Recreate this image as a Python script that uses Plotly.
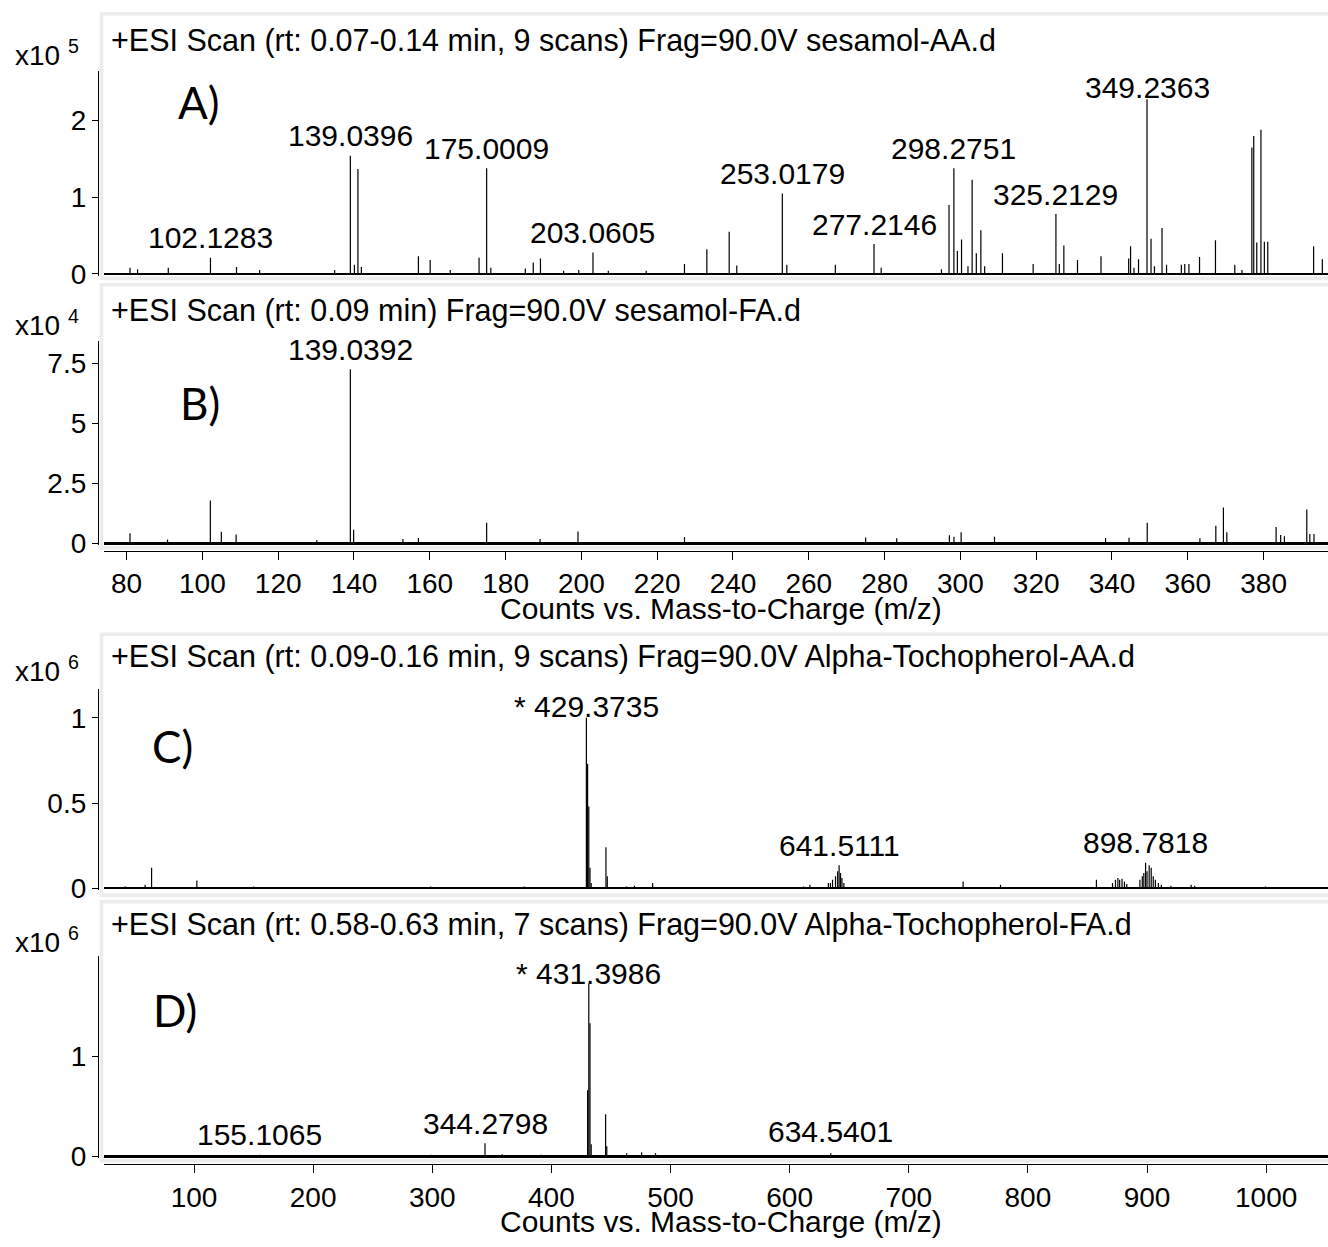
import plotly.graph_objects as go

# ---------------- data ----------------
# Panel A: sesamol-AA (counts x10^5)
mz_A = [80.9, 82.9, 91.0, 102.13, 109.0, 115.1, 134.9, 139.04, 140.1, 141.04, 141.95, 157.0,
        160.1, 165.4, 173.0, 175.0, 176.1, 185.2, 187.3, 189.2, 195.3, 199.3, 203.06, 207.1,
        217.1, 227.2, 233.1, 239.0, 241.0, 253.02, 254.2, 267.0, 277.21, 279.1, 295.0, 297.0,
        298.28, 299.2, 300.3, 302.0, 303.1, 304.2, 305.4, 306.4, 311.1, 319.2, 325.21, 326.1,
        327.3, 330.9, 337.1, 344.4, 344.9, 345.8, 347.0, 349.24, 350.3, 351.2, 353.2, 354.4,
        358.3, 359.2, 360.3, 363.1, 367.3, 372.4, 374.3, 376.9, 377.4, 378.2, 379.3, 380.2,
        381.1, 393.2, 395.5]
int_A = [0.08, 0.06, 0.08, 0.21, 0.09, 0.05, 0.05, 1.54, 0.12, 1.37, 0.09, 0.23,
         0.18, 0.05, 0.21, 1.38, 0.08, 0.07, 0.15, 0.20, 0.04, 0.05, 0.28, 0.04,
         0.04, 0.13, 0.32, 0.55, 0.11, 1.05, 0.12, 0.12, 0.39, 0.08, 0.06, 0.90,
         1.38, 0.30, 0.45, 0.10, 1.23, 0.27, 0.57, 0.10, 0.27, 0.13, 0.78, 0.13,
         0.37, 0.18, 0.23, 0.20, 0.36, 0.08, 0.19, 2.28, 0.46, 0.10, 0.60, 0.12,
         0.12, 0.13, 0.13, 0.22, 0.44, 0.12, 0.05, 1.65, 1.80, 0.41, 1.88, 0.42,
         0.42, 0.36, 0.19]
lab_A = ["102.1283", "139.0396", "175.0009", "203.0605", "253.0179", "277.2146",
         "298.2751", "325.2129", "349.2363"]
lab_A_mz = [102.13, 139.04, 175.0, 203.06, 253.02, 277.21, 298.28, 325.21, 349.24]

# Panel B: sesamol-FA (counts x10^4)
mz_B = [80.9, 90.8, 102.1, 105.0, 108.9, 130.2, 139.04, 139.9, 152.9, 157.0, 175.0, 189.1,
        199.1, 227.2, 275.0, 283.2, 297.1, 298.3, 300.2, 309.0, 338.3, 344.5, 349.3, 363.2,
        367.4, 369.4, 370.3, 383.3, 384.5, 385.5, 391.4, 392.2, 393.3]
int_B = [0.41, 0.15, 1.78, 0.47, 0.36, 0.13, 7.25, 0.56, 0.17, 0.22, 0.85, 0.17,
         0.49, 0.25, 0.23, 0.20, 0.33, 0.27, 0.45, 0.27, 0.22, 0.22, 0.85, 0.20,
         0.72, 1.48, 0.45, 0.67, 0.34, 0.29, 1.40, 0.38, 0.38]
lab_B = ["139.0392"]
lab_B_mz = [139.04]

# Panel C: Alpha-Tochopherol-AA (counts x10^6)
mz_C = [42.3, 59.0, 64.4, 102.4, 150.0, 298.7, 377.3, 429.37, 430.4, 431.4, 432.4, 433.4,
        445.8, 446.9, 463.2, 469.7, 485.0, 611.7, 617.0, 632.5, 634.2, 636.0, 638.5, 640.3,
        641.51, 642.7, 643.9, 645.5, 745.6, 777.0, 857.5, 871.0, 873.5, 875.5, 877.0, 879.0,
        881.0, 883.0, 894.0, 896.0, 897.3, 898.78, 900.0, 901.8, 903.5, 905.2, 907.0, 909.5,
        912.0, 920.0, 937.0, 940.0, 999.3]
int_C = [0.01, 0.02, 0.12, 0.045, 0.01, 0.01, 0.01, 1.0, 0.73, 0.48, 0.12, 0.03,
         0.24, 0.07, 0.01, 0.015, 0.03, 0.01, 0.02, 0.03, 0.03, 0.05, 0.07, 0.10,
         0.135, 0.09, 0.06, 0.03, 0.04, 0.02, 0.05, 0.03, 0.05, 0.06, 0.05, 0.055,
         0.04, 0.025, 0.05, 0.07, 0.09, 0.15, 0.10, 0.135, 0.12, 0.07, 0.05, 0.03,
         0.02, 0.015, 0.02, 0.015, 0.01]
lab_C = ["* 429.3735", "641.5111", "898.7818"]
lab_C_mz = [429.37, 641.51, 898.78]

# Panel D: Alpha-Tochopherol-FA (counts x10^6)
mz_D = [155.11, 165.0, 255.6, 298.7, 344.28, 358.7, 391.4, 430.4, 431.40, 432.4, 433.4,
        445.5, 446.5, 463.2, 475.7, 487.4, 634.54, 640.0]
int_D = [0.015, 0.01, 0.01, 0.015, 0.13, 0.02, 0.015, 0.66, 1.73, 1.33, 0.12,
         0.42, 0.10, 0.03, 0.04, 0.03, 0.03, 0.01]
lab_D = ["155.1065", "344.2798", "* 431.3986", "634.5401"]
lab_D_mz = [155.11, 344.28, 431.40, 634.54]

titles = ["+ESI Scan (rt: 0.07-0.14 min, 9 scans) Frag=90.0V sesamol-AA.d",
          "+ESI Scan (rt: 0.09 min) Frag=90.0V sesamol-FA.d",
          "+ESI Scan (rt: 0.09-0.16 min, 9 scans) Frag=90.0V Alpha-Tochopherol-AA.d",
          "+ESI Scan (rt: 0.58-0.63 min, 7 scans) Frag=90.0V Alpha-Tochopherol-FA.d"]
exponents = [5, 4, 6, 6]
letters = ["A)", "B)", "C)", "D)"]

ticks_A = [0, 1, 2]
ticks_B = [0, 2.5, 5, 7.5]
ticks_C = [0, 0.5, 1]
ticks_D = [0, 1]
xticks_AB = list(range(80, 381, 20))
xticks_CD = list(range(100, 1001, 100))
x_title = "Counts vs. Mass-to-Charge (m/z)"

# ---------------- layout geometry (pixels) ----------------
W, H = 1328, 1247
def px_x(p): return p / W
def px_y(p): return 1 - p / H

FONT = "Liberation Sans, Arial, sans-serif"
XDOM = [px_x(104), 1.0]
YPOS = px_x(98)
panels = [
    dict(zero=277.0, top=72.0, topv=2.645),
    dict(zero=549.3, top=345.0, topv=8.418),
    dict(zero=898.3, top=696.7, topv=1.170),
    dict(zero=1169.3, top=967.3, topv=2.0),
]
xr_AB = [74.04, 74.04 + (1328 - 104) / 3.79]
xr_CD = [24.45, 24.45 + (1328 - 104) / 1.1913]

def sticks(mz, inten):
    xs, ys = [], []
    for m, v in zip(mz, inten):
        xs += [m, m, None]
        ys += [0, v, None]
    return xs, ys

fig = go.Figure()
data = [(mz_A, int_A), (mz_B, int_B), (mz_C, int_C), (mz_D, int_D)]
for i, (mz, inten) in enumerate(data):
    xs, ys = sticks(mz, inten)
    sfx = "" if i == 0 else str(i + 1)
    fig.add_trace(go.Scatter(x=xs, y=ys, mode="lines", line=dict(color="black", width=1.2),
                             xaxis="x" + sfx, yaxis="y" + sfx, showlegend=False,
                             hoverinfo="skip"))

yticks = [ticks_A, ticks_B, ticks_C, ticks_D]
layout = dict(width=W, height=H, margin=dict(l=0, r=0, t=0, b=0),
              paper_bgcolor="white", plot_bgcolor="rgba(0,0,0,0)",
              font=dict(family=FONT, size=28, color="black"))

zero_w = [2, 3, 2, 2.5]
for i, p in enumerate(panels):
    sfx = "" if i == 0 else str(i + 1)
    ppu = (p["zero"] - p["top"]) / p["topv"]
    eps = 2.0 / ppu
    layout["yaxis" + sfx] = dict(
        domain=[px_y(p["zero"] + 2), px_y(p["top"])],
        range=[-eps, p["topv"]], anchor="free", position=YPOS,
        showline=True, linecolor="black", linewidth=1.3,
        ticks="outside", ticklen=6, tickcolor="black", tickwidth=1.3,
        tickvals=yticks[i], ticktext=[("%g" % t) for t in yticks[i]],
        tickfont=dict(size=28), showgrid=False,
        zeroline=True, zerolinecolor="black", zerolinewidth=zero_w[i])
    is_bottom = i in (1, 3)
    xr = xr_AB if i < 2 else xr_CD
    xt = xticks_AB if i < 2 else xticks_CD
    xa = dict(domain=XDOM, range=xr, showgrid=False, zeroline=False)
    if is_bottom:
        pos = px_y(557) if i == 1 else px_y(1177)
        xa.update(anchor="free", position=pos, showline=True, linecolor="black", linewidth=1.3,
                  ticks="outside", ticklen=8, tickcolor="black", tickwidth=1.3,
                  tickvals=xt, ticktext=[str(t) for t in xt], tickfont=dict(size=28))
    else:
        xa.update(anchor="y" + sfx, visible=False)
    layout["xaxis" + sfx] = xa

fig.update_layout(**layout)

# frames
frames = [(14, 281.5), (288, 554), (641.5, 905.5), (912, 1174)]
for (t, b) in frames:
    fig.add_shape(type="rect", xref="paper", yref="paper", x0=px_x(101.5), x1=1.02,
                  y0=px_y(b), y1=px_y(t), line=dict(color="#ececec", width=3.5),
                  fillcolor="rgba(0,0,0,0)", layer="below")

# titles, exponents, letters
title_y = [41, 314, 664, 935]
exp_y = [54, 327, 677, 951]
letter_pos = [(199, 103), (200, 408), (172, 754), (175, 1021)]
for i in range(4):
    fig.add_annotation(xref="paper", yref="paper", x=px_x(109), y=px_y(title_y[i]),
                       xanchor="left", yanchor="middle", text=titles[i], showarrow=False,
                       font=dict(size=30.5))
    fig.add_annotation(xref="paper", yref="paper", x=px_x(13), y=px_y(exp_y[i]),
                       xanchor="left", yanchor="middle",
                       text="x10 <sup>%d</sup>" % exponents[i], showarrow=False,
                       font=dict(size=28))
    lx, ly = letter_pos[i]
    fig.add_annotation(xref="paper", yref="paper", x=px_x(lx), y=px_y(ly),
                       xanchor="center", yanchor="middle", text=letters[i], showarrow=False,
                       font=dict(family="Lato, Noto Sans, sans-serif", size=44))

# axis titles
for yy in (615, 1235):
    fig.add_annotation(xref="paper", yref="paper", x=px_x(721), y=px_y(yy),
                       xanchor="center", yanchor="middle", text=x_title, showarrow=False,
                       font=dict(size=30))

# peak labels
label_shift = {"349.2363": 12, "* 429.3735": 11, "* 431.3986": 10, "634.5401": 22}
def lookup(mz_list, int_list, m):
    j = min(range(len(mz_list)), key=lambda k: abs(mz_list[k] - m))
    return int_list[j]

lab_sets = [(lab_A, lab_A_mz, mz_A, int_A), (lab_B, lab_B_mz, mz_B, int_B),
            (lab_C, lab_C_mz, mz_C, int_C), (lab_D, lab_D_mz, mz_D, int_D)]
for i, (labs, lmz, mz, inten) in enumerate(lab_sets):
    sfx = "" if i == 0 else str(i + 1)
    for text, m in zip(labs, lmz):
        h = lookup(mz, inten, m)
        fig.add_annotation(xref="x" + sfx, yref="y" + sfx, x=m, y=h, text=text,
                           showarrow=False, xanchor="center", yanchor="middle",
                           yshift=label_shift.get(text, 20), font=dict(size=30))

fig.write_html("out.html", config={"displayModeBar": False},
               post_script="document.body.style.margin='0';document.body.style.overflow='hidden';")
